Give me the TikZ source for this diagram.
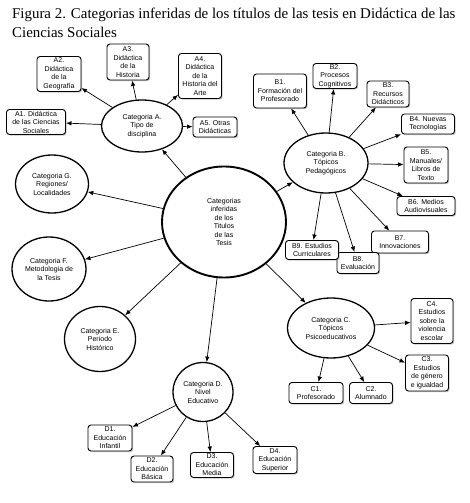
\documentclass[tikz,border=0pt]{standalone}
\usepackage{fontspec}
\setmainfont{Liberation Serif}
\setsansfont{Liberation Sans}
\usetikzlibrary{arrows.meta,shapes.geometric,shadows}
\tikzset{cat/.style={ellipse,draw,line width=1.3pt,inner sep=0pt,align=center,font=\sffamily\fontsize{7}{8.5}\selectfont},
  hub/.style={cat,line width=1.9pt},
  leaf/.style={draw,rounded corners=3pt,line width=0.9pt,fill=white,align=center,inner sep=0pt,font=\sffamily\fontsize{7}{8.5}\selectfont,
    drop shadow={shadow xshift=1.2pt,shadow yshift=-1.2pt,fill=black!45}},
  sz/.style 2 args={minimum width=#1,minimum height=#2},
  arr/.style={-{Latex[length=5.5pt,width=4.5pt]},line width=0.7pt}}

\begin{document}
\begin{tikzpicture}[x=1pt,y=-1pt]
\useasboundingbox (0,0) rectangle (470,503);
\node[anchor=north west,align=left,inner sep=0pt,font=\fontsize{14.9}{19}\selectfont] (title) at (12,8)
  {Figura 2. Categorias inferidas de los títulos de las tesis en Didáctica de las\\Ciencias Sociales};
% categorias
\node[hub,sz={124pt}{111pt}] (hub) at (224,222){Categorias\\inferidas\\de los\\Titulos\\de las\\Tesis};
\node[cat,sz={81pt}{52pt}] (A) at (142,126){Categoria A.\\Tipo de\\disciplina};
\node[cat,sz={84pt}{60pt}] (B) at (326,163){Categoria B.\\Tópicos\\Pedagógicos};
\node[cat,sz={87pt}{60pt}] (C) at (331,328){Categoria C.\\Tópicos\\Psicoeducativos};
\node[cat,sz={60pt}{59pt}] (D) at (203,392){Categoria D.\\Nivel\\Educativo};
\node[cat,sz={71pt}{65pt}] (E) at (100,339){Categoria E.\\Periodo\\Histórico};
\node[cat,sz={74pt}{64pt}] (F) at (49,269){Categoria F.\\Metodologia de\\la Tesis};
\node[cat,sz={73pt}{58pt}] (G) at (52,184){Categoria G.\\Regiones/\\Localidades};
% A
\node[leaf,sz={59pt}{25pt}] (A1) at (36,122){A1. Didáctica\\de las Ciencias\\Sociales};
\node[leaf,sz={44pt}{35pt}] (A2) at (59,74){A2.\\Didáctica\\de la\\Geografía};
\node[leaf,sz={42pt}{36pt}] (A3) at (128,62){A3.\\Didáctica\\de la\\Historia};
\node[leaf,sz={43pt}{45pt}] (A4) at (200,76){A4.\\Didáctica\\de la\\Historia del\\Arte};
\node[leaf,sz={44pt}{20pt}] (A5) at (215,127){A5. Otras\\Didácticas};
% B
\node[leaf,sz={53pt}{34pt}] (B1) at (280,91){B1.\\Formación del\\Profesorado};
\node[leaf,sz={44pt}{25pt}] (B2) at (335,76){B2.\\Procesos\\Cognitivos};
\node[leaf,sz={42pt}{26pt}] (B3) at (388,94){B3.\\Recursos\\Didácticos};
\node[leaf,sz={53pt}{20pt}] (B4) at (428,124){B4. Nuevas\\Tecnologías};
\node[leaf,sz={44pt}{36pt}] (B5) at (426,165){B5.\\Manuales/\\Libros de\\Texto};
\node[leaf,sz={58pt}{19pt}] (B6) at (426,206){B6. Medios\\Audiovisuales};
\node[leaf,sz={57pt}{22pt}] (B7) at (400,242){B7.\\Innovaciones};
\node[leaf,sz={42pt}{21pt}] (B8) at (358,263){B8.\\Evaluación};
\node[leaf,sz={53pt}{19pt}] (B9) at (312,250){B9. Estudios\\Curriculares};
% C
\node[leaf,sz={54pt}{21pt}] (C1) at (316,393){C1.\\Profesorado};
\node[leaf,sz={43pt}{21pt}] (C2) at (371,393){C2.\\Alumnado};
\node[leaf,sz={43pt}{36pt}] (C3) at (427,373){C3.\\Estudios\\de género\\e igualdad};
\node[leaf,sz={42pt}{45pt}] (C4) at (432,321){C4.\\Estudios\\sobre la\\violencia\\escolar};
% D
\node[leaf,sz={44pt}{26pt}] (D1) at (110,438){D1.\\Educación\\Infantil};
\node[leaf,sz={42pt}{26pt}] (D2) at (152,469){D2.\\Educación\\Básica};
\node[leaf,sz={43pt}{25pt}] (D3) at (212,465){D3.\\Educación\\Media};
\node[leaf,sz={44pt}{27pt}] (D4) at (275,460){D4.\\Educación\\Superior};
\foreach \q in {A,B,C,D,E,F,G}{\draw[arr] (hub)--(\q);}
\foreach \p/\q in {A/A1,A/A2,A/A3,A/A4,A/A5,B/B1,B/B2,B/B3,B/B4,B/B5,B/B6,B/B7,B/B8,B/B9,
  C/C1,C/C2,C/C3,C/C4,D/D1,D/D2,D/D3,D/D4}{\draw[arr] (\p)--(\q);}
\end{tikzpicture}
\end{document}
